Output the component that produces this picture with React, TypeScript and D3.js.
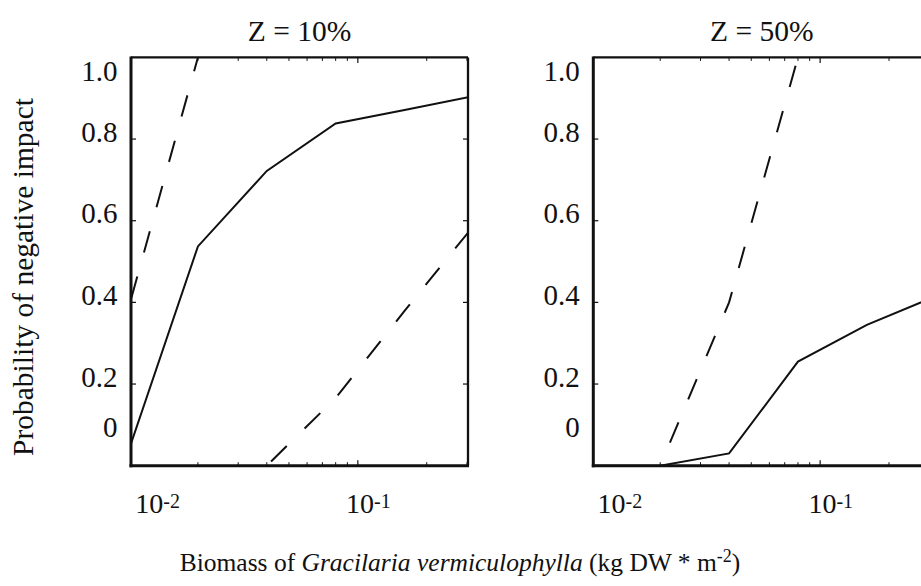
import * as d3 from 'd3';

const W = 921;
const H = 586;

const panelTitles = ['Z = 10%', 'Z = 50%'];
const biomass = [0.01, 0.02, 0.04, 0.08, 0.16, 0.32];

// Z = 10%
const z10Solid = [0.04, 0.537, 0.722, 0.838, 0.871, 0.905];
const z10DashUpper = [0.39, 1.0, null, null, null, null];
const z10DashLower = [null, null, 0, 0.166, 0.379, 0.587];

// Z = 50%
const z50Solid = [0, 0, 0.03, 0.255, 0.345, 0.415];
const z50DashUpper = [null, 0, 0.4, 1.0, null, null];

const yTickValues = [0, 0.2, 0.4, 0.6, 0.8, 1];
const yTickLabels = ['0', '0.2', '0.4', '0.6', '0.8', '1.0'];
const xMajorTicks = [0.01, 0.1];
const xMajorExp = ['-2', '-1'];
const xMinorTicks = [0.02, 0.03, 0.04, 0.05, 0.06, 0.07, 0.08, 0.09, 0.2, 0.3];

const FONT = "'Liberation Serif', 'Times New Roman', serif";
const xDomain: [number, number] = [0.0102, 0.303];
const panelLeft = [131, 593.3];
const panelWidth = 337;
const plotTop = 57.4;
const plotBottom = 465.7;

const y = d3.scaleLinear().domain([0, 1]).range([plotBottom, plotTop]);

type Series = { values: (number | null)[]; dashed: boolean; offset?: number };

const panelSeries: Series[][] = [
  [
    { values: z10Solid, dashed: false },
    { values: z10DashUpper, dashed: true, offset: 38 },
    { values: z10DashLower, dashed: true, offset: 41 },
  ],
  [
    { values: z50Solid, dashed: false },
    { values: z50DashUpper, dashed: true, offset: 22 },
  ],
];

// tick labels sit a little off their ticks in the original
const yLabelShift = (v: number) => (v === 1 ? 13.6 : v === 0 ? -38.7 : -7.5);
const xLabelShift = (v: number) => (v < 0.05 ? 20 : 2);

function Panel({ idx }: { idx: number }) {
  const left = panelLeft[idx];
  const right = left + panelWidth;
  const x = d3.scaleLog().domain(xDomain).range([left, right]);
  const clipId = `clip-${idx}`;

  const line = d3
    .line<[number, number | null]>()
    .defined((d) => d[1] != null)
    .x((d) => x(d[0]))
    .y((d) => y(d[1] as number));

  return (
    <g>
      <defs>
        <clipPath id={clipId}>
          <rect x={left} y={plotTop} width={panelWidth} height={plotBottom - plotTop} />
        </clipPath>
      </defs>

      <g clipPath={`url(#${clipId})`}>
        {panelSeries[idx].map((s, i) => (
          <path
            key={i}
            d={line(biomass.map((b, j) => [b, s.values[j]] as [number, number | null])) ?? ''}
            fill="none"
            stroke="#111"
            strokeWidth={2}
            strokeDasharray={s.dashed ? '22 25' : undefined}
            strokeDashoffset={s.dashed ? s.offset : undefined}
          />
        ))}
      </g>

      {/* inward ticks */}
      {yTickValues
        .filter((v) => v > 0 && v < 1)
        .map((v) => (
          <g key={`yt${v}`} stroke="#111" strokeWidth={1.2}>
            <line x1={left} x2={left + 5} y1={y(v)} y2={y(v)} />
            <line x1={right} x2={right - 5} y1={y(v)} y2={y(v)} />
          </g>
        ))}
      {xMinorTicks.map((v) => (
        <g key={`xm${v}`} stroke="#111" strokeWidth={1}>
          <line x1={x(v)} x2={x(v)} y1={plotBottom} y2={plotBottom - 3.5} />
          <line x1={x(v)} x2={x(v)} y1={plotTop} y2={plotTop + 3.5} />
        </g>
      ))}
      {xMajorTicks
        .filter((v) => v >= xDomain[0])
        .map((v) => (
          <g key={`xM${v}`} stroke="#111" strokeWidth={1.2}>
            <line x1={x(v)} x2={x(v)} y1={plotBottom} y2={plotBottom - 5.5} />
            <line x1={x(v)} x2={x(v)} y1={plotTop} y2={plotTop + 5.5} />
          </g>
        ))}

      {/* frame */}
      <line x1={left} x2={right} y1={plotTop} y2={plotTop} stroke="#111" strokeWidth={2.3} />
      <line x1={right} x2={right} y1={plotTop} y2={plotBottom} stroke="#111" strokeWidth={2.3} />
      <line x1={left} x2={left} y1={plotTop - 1} y2={plotBottom + 1.5} stroke="#111" strokeWidth={3} />
      <line x1={left - 1.5} x2={right + 1} y1={plotBottom} y2={plotBottom} stroke="#111" strokeWidth={3} />

      {/* y tick labels */}
      {yTickValues.map((v, i) => (
        <text
          key={`yl${v}`}
          x={left - 13.5}
          y={y(v) + yLabelShift(v) + 10}
          textAnchor="end"
          fontSize={29}
          fill="#111"
        >
          {yTickLabels[i]}
        </text>
      ))}

      {/* x tick labels */}
      {xMajorTicks.map((v, i) => (
        <text
          key={`xl${v}`}
          x={x(v) + xLabelShift(v) - 13.75}
          y={513.3}
          fontSize={28}
          fill="#111"
        >
          10
          <tspan fontSize={20} dy={-5}>
            {xMajorExp[i]}
          </tspan>
        </text>
      ))}

      <text x={(left + right) / 2} y={41} textAnchor="middle" fontSize={29.5} fill="#111">
        {panelTitles[idx]}
      </text>
    </g>
  );
}

export default function App() {
  return (
    <div style={{ position: 'fixed', left: 0, top: 0, width: W, height: H, background: '#fff' }}>
      <svg width={W} height={H} style={{ display: 'block', fontFamily: FONT }}>
        <rect width={W} height={H} fill="#fff" />
        <Panel idx={0} />
        <Panel idx={1} />

        <text
          transform="translate(33,277) rotate(-90)"
          textAnchor="middle"
          fontSize={29.5}
          fill="#111"
        >
          Probability of negative impact
        </text>

        <text x={460} y={571} textAnchor="middle" fontSize={25.5} fill="#111">
          Biomass of <tspan fontStyle="italic">Gracilaria vermiculophylla</tspan> (kg DW * m
          <tspan fontSize={18} dy={-9}>
            -2
          </tspan>
          <tspan dy={9}>)</tspan>
        </text>
      </svg>
    </div>
  );
}
